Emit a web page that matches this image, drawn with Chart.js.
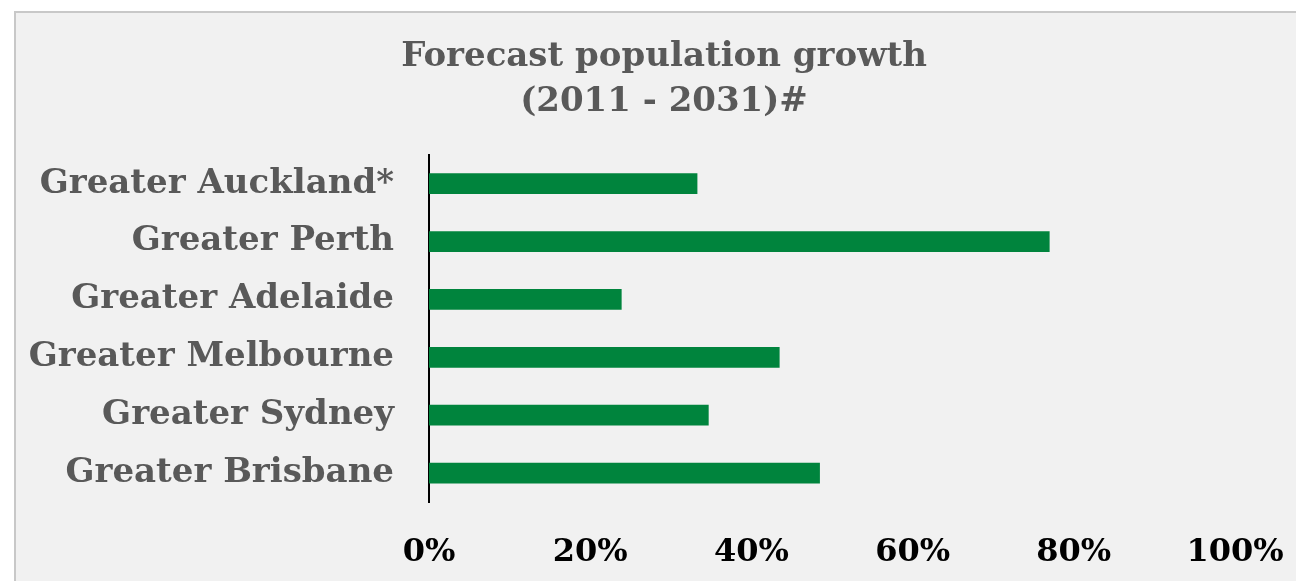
<!DOCTYPE html>
<html>
<head>
<meta charset="utf-8">
<script src="https://cdn.jsdelivr.net/npm/chart.js@4"></script>
<style>
  html, body { margin: 0; padding: 0; background: #ffffff; overflow: hidden; }
  #panel {
    position: absolute; left: 14px; top: 11px; width: 1320px; height: 600px;
    background: #f1f1f1; border: 2px solid #c8c8c8; box-sizing: border-box;
  }
  #wrap { position: absolute; left: 0; top: 0; width: 1328px; height: 581px; }
</style>
</head>
<body>
<div id="panel"></div>
<div id="wrap"><canvas id="chart" width="1328" height="581"></canvas></div>
<script>
const canvas = document.getElementById("chart");
const ctx = canvas.getContext("2d");

// 지역 이름과 예측 인구 증가율 (%)
var regions = ["Greater Auckland*", "Greater Perth", "Greater Adelaide", "Greater Melbourne", "Greater Sydney", "Greater Brisbane"];
var growth = [33.3, 77.0, 23.9, 43.5, 34.7, 48.5];
var tickValues = [0, 20, 40, 60, 80, 100];
var titleLines = ["Forecast population growth", "(2011 - 2031)#"];

const FONT = "'DejaVu Serif', serif";

new Chart(ctx, {
  type: "bar",
  data: {
    labels: regions,
    datasets: [
      {
        data: growth,
        backgroundColor: "#00843d",
        borderWidth: 0,
        barPercentage: 0.9,
        categoryPercentage: 0.4,
      },
    ],
  },
  options: {
    indexAxis: "y",
    responsive: false,
    animation: false,
    layout: { padding: 0 },
    plugins: {
      legend: { display: false },
      tooltip: { enabled: false },
      title: {
        display: true,
        text: titleLines,
        color: "#595959",
        font: { family: FONT, size: 34, weight: "bold", lineHeight: 1.32 },
        padding: { top: 35, bottom: 30 },
      },
    },
    scales: {
      x: {
        min: 0,
        max: 100,
        afterBuildTicks: function (scale) {
          scale.ticks = tickValues.map(function (v) { return { value: v }; });
        },
        // 오른쪽 여백을 고정 (100% 위치 = 1235px)
        afterFit: function (scale) { scale.height = 79; scale.paddingRight = 93; },
        grid: { display: false, drawTicks: false },
        border: { display: false },
        ticks: {
          color: "#000000",
          padding: 31,
          maxRotation: 0,
          font: { family: FONT, size: 32, weight: "bold" },
          callback: function (v) { return v + "%"; },
        },
      },
      y: {
        afterFit: function (scale) { scale.width = 429; },
        grid: { display: false, drawTicks: false },
        border: { display: true, color: "#000000", width: 2 },
        ticks: {
          color: "#595959",
          padding: 35,
          font: { family: FONT, size: 34, weight: "bold" },
        },
      },
    },
  },
});
</script>
</body>
</html>
